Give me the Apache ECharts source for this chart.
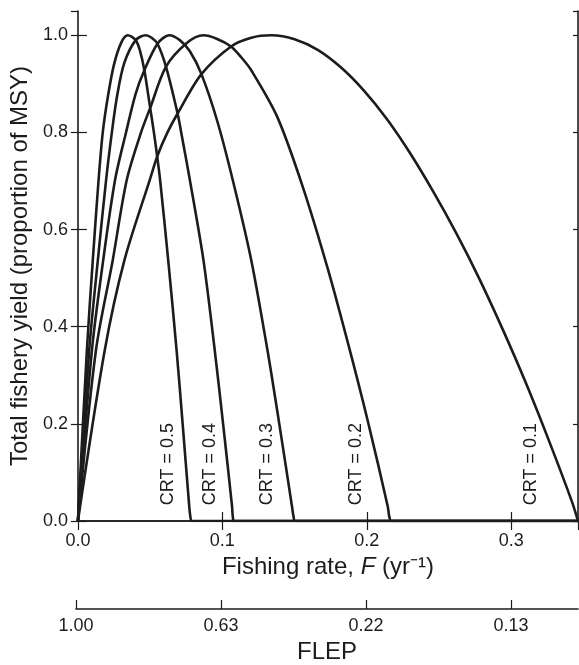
<!DOCTYPE html>
<html>
<head>
<meta charset="utf-8">
<script src="https://cdn.jsdelivr.net/npm/echarts@6/dist/echarts.min.js"></script>
<style>
  html, body { margin: 0; padding: 0; background: #fff; }
  #chart { width: 579px; height: 665px; }
</style>
</head>
<body>
<div id="chart"></div>
<script>
// yield curves: [F, proportion of MSY]
const crt05 = [[0,0],[0.0062,0.352],[0.0103,0.537],[0.0143,0.702],[0.0172,0.80],[0.0207,0.873],[0.025,0.94],[0.030,0.985],[0.0345,1.0],[0.040,0.99],[0.043,0.968],[0.046,0.928],[0.050,0.851],[0.0526,0.80],[0.0548,0.752],[0.0569,0.702],[0.0625,0.537],[0.0683,0.352],[0.0725,0.20],[0.0768,0.04],[0.0778,0.01],[0.079,0],[0.3462,0]];
const crt04 = [[0,0],[0.0078,0.352],[0.0138,0.537],[0.0195,0.702],[0.0235,0.80],[0.027,0.873],[0.032,0.942],[0.040,0.99],[0.047,1.0],[0.051,0.995],[0.055,0.983],[0.061,0.935],[0.069,0.839],[0.0715,0.80],[0.0775,0.702],[0.0869,0.537],[0.0947,0.352],[0.1005,0.20],[0.1067,0.03],[0.1072,0.01],[0.1082,0],[0.3462,0]];
const crt03 = [[0,0],[0.0097,0.352],[0.0175,0.537],[0.0257,0.702],[0.0333,0.80],[0.040,0.88],[0.046,0.928],[0.0552,0.983],[0.0632,1.0],[0.0705,0.99],[0.0775,0.967],[0.0855,0.92],[0.0965,0.823],[0.1076,0.697],[0.12,0.537],[0.1312,0.352],[0.1394,0.20],[0.1482,0.03],[0.1492,0.01],[0.1505,0],[0.3462,0]];
const crt02 = [[0,0],[0.0125,0.352],[0.0241,0.537],[0.0338,0.702],[0.0437,0.80],[0.0501,0.851],[0.0609,0.935],[0.0754,0.984],[0.0869,1.0],[0.096,0.993],[0.106,0.977],[0.113,0.955],[0.12,0.928],[0.138,0.832],[0.156,0.685],[0.1733,0.516],[0.1875,0.36],[0.2005,0.208],[0.2145,0.03],[0.2155,0.01],[0.217,0],[0.3462,0]];
const crt01 = [[0,0],[0.0186,0.352],[0.0322,0.537],[0.0497,0.702],[0.0552,0.753],[0.062,0.80],[0.069,0.839],[0.0855,0.92],[0.106,0.977],[0.12,0.995],[0.134,1.0],[0.15,0.992],[0.166,0.97],[0.182,0.934],[0.198,0.886],[0.214,0.827],[0.23,0.757],[0.246,0.678],[0.262,0.592],[0.278,0.498],[0.294,0.395],[0.31,0.285],[0.326,0.166],[0.342,0.04],[0.3462,0]];

const curveNames = ['CRT = 0.5', 'CRT = 0.4', 'CRT = 0.3', 'CRT = 0.2', 'CRT = 0.1'];
const curves = [crt05, crt04, crt03, crt02, crt01];
// where each rotated CRT label sits, in data units
const labelSpots = [[0.0621,0.117],[0.0912,0.117],[0.1312,0.117],[0.1924,0.117],[0.3138,0.117]];

const fTicks = ['0.0', '0.1', '0.2', '0.3'];
const flepTicks = ['1.00', '0.63', '0.22', '0.13'];
const yTicks = ['0.0', '0.2', '0.4', '0.6', '0.8', '1.0'];

const fMax = 0.3462;
const font = '"Liberation Sans", Arial, Helvetica, sans-serif';
const ink = '#1c1c1c';

const myChart = echarts.init(document.getElementById('chart'));

const lineSeries = curves.map((c, i) => ({
  name: curveNames[i],
  type: 'line',
  xAxisIndex: 0,
  yAxisIndex: 0,
  data: c,
  showSymbol: false,
  symbol: 'none',
  smooth: 0.3,
  lineStyle: { color: ink, width: 2.6 },
  z: 3
}));

const option = {
  animation: false,
  backgroundColor: '#fff',
  textStyle: { fontFamily: font, color: ink },
  grid: [
    { left: 76, right: 1, top: 11, bottom: 144 },
    { left: 76, right: 1, top: 603, height: 10 }
  ],
  xAxis: [
    {
      type: 'value', gridIndex: 0, position: 'bottom',
      min: 0, max: fMax, interval: 0.1,
      axisLine: { show: true, lineStyle: { color: ink, width: 1.6 } },
      axisTick: { show: true, inside: true, length: 9, lineStyle: { color: ink, width: 1.2 } },
      axisLabel: {
        fontSize: 18, color: ink, fontFamily: font, margin: 11, showMaxLabel: false,
        formatter: v => fTicks[Math.round(v / 0.1)] ?? ''
      },
      splitLine: { show: false },
      name: 'Fishing rate, {i|F} (yr\u207B\u00B9)',
      nameLocation: 'middle',
      nameGap: 32,
      nameTextStyle: {
        fontSize: 24, color: ink, fontFamily: font,
        rich: { i: { fontSize: 24, fontStyle: 'italic', color: ink, fontFamily: font } }
      }
    },
    {
      type: 'value', gridIndex: 0, position: 'top',
      min: 0, max: fMax, interval: 0.1,
      axisLine: { show: true, lineStyle: { color: ink, width: 1.6 } },
      axisTick: { show: true, inside: true, length: 9, lineStyle: { color: ink, width: 1.2 } },
      axisLabel: { show: false },
      splitLine: { show: false }
    },
    {
      type: 'value', gridIndex: 1, position: 'bottom',
      min: 0, max: fMax, interval: 0.1,
      axisLine: { show: true, lineStyle: { color: ink, width: 1.6 } },
      axisTick: { show: true, inside: true, length: 9, lineStyle: { color: ink, width: 1.2 } },
      axisLabel: {
        fontSize: 18, color: ink, fontFamily: font, margin: 8, showMaxLabel: false,
        formatter: v => flepTicks[Math.round(v / 0.1)] ?? ''
      },
      splitLine: { show: false },
      name: 'FLEP',
      nameLocation: 'middle',
      nameGap: 31,
      nameTextStyle: { fontSize: 24, color: ink, fontFamily: font }
    }
  ],
  yAxis: [
    {
      type: 'value', gridIndex: 0, position: 'left',
      min: 0, max: 1.05, interval: 0.2,
      axisLine: { show: true, lineStyle: { color: ink, width: 1.6 } },
      axisTick: { show: true, inside: true, length: 9, lineStyle: { color: ink, width: 1.2 } },
      axisLabel: {
        fontSize: 18, color: ink, fontFamily: font, margin: 10, showMaxLabel: false,
        formatter: v => yTicks[Math.round(v / 0.2)] ?? ''
      },
      splitLine: { show: false },
      name: 'Total fishery yield (proportion of MSY)',
      nameLocation: 'middle',
      nameGap: 45,
      nameTextStyle: { fontSize: 24, color: ink, fontFamily: font }
    },
    {
      type: 'value', gridIndex: 0, position: 'left',
      min: 0, max: 1.05, interval: 0.2,
      axisLine: { show: false },
      axisTick: { show: true, inside: false, length: 7, lineStyle: { color: ink, width: 1.2 } },
      axisLabel: { show: false },
      splitLine: { show: false }
    },
    {
      type: 'value', gridIndex: 0, position: 'right',
      min: 0, max: 1.05, interval: 0.2,
      axisLine: { show: true, lineStyle: { color: ink, width: 1.6 } },
      axisTick: { show: true, inside: true, length: 5, lineStyle: { color: ink, width: 1.2 } },
      axisLabel: { show: false },
      splitLine: { show: false }
    },
    {
      type: 'value', gridIndex: 1, show: false, min: 0, max: 1
    }
  ],
  series: [
    ...lineSeries,
    {
      type: 'scatter',
      xAxisIndex: 0,
      yAxisIndex: 0,
      symbolSize: 0,
      itemStyle: { opacity: 1 },
      data: labelSpots.map((p, i) => ({ value: p, name: curveNames[i] })),
      label: {
        show: true,
        position: 'inside',
        rotate: 90,
        formatter: p => p.name,
        fontSize: 18,
        color: ink,
        opacity: 1,
        textBorderWidth: 0,
        fontFamily: font
      },
      silent: true,
      z: 4
    }
  ]
};

option && myChart.setOption(option);
</script>
</body>
</html>
